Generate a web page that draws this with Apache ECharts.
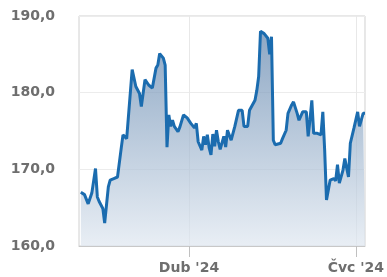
<!DOCTYPE html>
<html>
<head>
<meta charset="utf-8">
<script src="https://cdn.jsdelivr.net/npm/echarts@6/dist/echarts.min.js"></script>
<style>
  html, body { margin: 0; padding: 0; background: #fff; }
  #chart { width: 387px; height: 277px; }
</style>
</head>
<body>
<div id="chart"></div>
<script>
// datumy (obchodní dny)
const dates = [
  '2024-02-02','2024-02-04','2024-02-06','2024-02-08','2024-02-10','2024-02-11','2024-02-12','2024-02-14','2024-02-15','2024-02-17',
  '2024-02-18','2024-02-20','2024-02-21','2024-02-22','2024-02-24','2024-02-25','2024-02-27','2024-02-28','2024-03-01','2024-03-03',
  '2024-03-05','2024-03-06','2024-03-08','2024-03-10','2024-03-12','2024-03-14','2024-03-15','2024-03-16','2024-03-18','2024-03-19',
  '2024-03-20','2024-03-21','2024-03-22','2024-03-23','2024-03-24','2024-03-26','2024-03-27','2024-03-29','2024-03-31','2024-04-02',
  '2024-04-04','2024-04-05','2024-04-06','2024-04-08','2024-04-09','2024-04-10','2024-04-11','2024-04-12','2024-04-13','2024-04-14',
  '2024-04-15','2024-04-16','2024-04-17','2024-04-18','2024-04-20','2024-04-21','2024-04-22','2024-04-24','2024-04-26','2024-04-28',
  '2024-04-30','2024-05-01','2024-05-03','2024-05-04','2024-05-07','2024-05-08','2024-05-09','2024-05-10','2024-05-12','2024-05-14',
  '2024-05-15','2024-05-16','2024-05-17','2024-05-18','2024-05-21','2024-05-22','2024-05-24','2024-05-25','2024-05-27','2024-05-28',
  '2024-05-30','2024-05-31','2024-06-02','2024-06-04','2024-06-05','2024-06-06','2024-06-07','2024-06-08','2024-06-10','2024-06-12',
  '2024-06-13','2024-06-14','2024-06-15','2024-06-17','2024-06-19','2024-06-20','2024-06-21','2024-06-22','2024-06-24','2024-06-25',
  '2024-06-27','2024-06-28','2024-06-30','2024-07-02','2024-07-03','2024-07-05','2024-07-06'
]
// ceny
const prices = [
  167.0, 166.7, 165.5, 166.9, 170.1, 166.4, 165.8, 164.9, 163.0, 167.7,
  168.6, 168.8, 168.6, 169.0, 172.7, 174.5, 174.0, 174.0, 183.0, 180.8,
  179.9, 178.2, 181.7, 181.0, 180.6, 183.2, 183.6, 185.1, 184.5, 183.6,
  172.9, 177.1, 175.6, 176.4, 175.6, 174.9, 175.5, 177.1, 176.7, 176.0,
  175.4, 176.0, 173.6, 172.5, 174.3, 173.2, 174.5, 172.8, 171.9, 174.6,
  173.0, 175.1, 173.6, 172.6, 174.3, 172.9, 175.1, 173.8, 175.6, 177.7,
  177.7, 175.6, 175.6, 177.7, 179.0, 180.3, 182.1, 188.0, 187.7, 187.1,
  185.0, 187.3, 173.8, 173.2, 173.4, 174.0, 175.1, 177.3, 178.4, 178.8,
  177.3, 176.4, 177.5, 177.5, 174.3, 176.5, 179.0, 174.7, 174.7, 174.5,
  177.5, 172.5, 166.0, 168.6, 168.8, 168.5, 170.6, 168.2, 169.9, 171.4,
  169.0, 173.4, 175.4, 177.5, 175.6, 177.3, 177.3
]
const xTicks = ['2024-04-01', '2024-07-01']
const xTickLabels = ["Dub '24", "Čvc '24"]
const yTicks = [160, 170, 180, 190]
const firstDay = '2024-02-01'
const lastDay = '2024-07-06'

// kategorie = všechny kalendářní dny
const DAY = 86400000
const days = []
for (let t = Date.parse(firstDay + 'T00:00:00Z'); t <= Date.parse(lastDay + 'T00:00:00Z'); t += DAY) {
  days.push(new Date(t).toISOString().slice(0, 10))
}
const isTick = (i, v) => xTicks.indexOf(v) >= 0

const myChart = echarts.init(document.getElementById('chart'))
const labelStyle = { color: '#6e6e6e', fontSize: 14, fontWeight: 'bold', fontFamily: 'DejaVu Sans' }

const options = {
  animation: false,
  grid: {
    left: 79, right: 20, top: 16, bottom: 31,
    show: true, borderColor: '#d0d0d0', borderWidth: 1, backgroundColor: '#fff'
  },
  xAxis: {
    type: 'category',
    data: days,
    boundaryGap: false,
    axisLine: { show: true, lineStyle: { color: '#c8c8c8' } },
    axisTick: { show: true, length: 11, interval: isTick, lineStyle: { color: '#c0c0c0' } },
    axisLabel: {
      ...labelStyle,
      margin: 15,
      interval: isTick,
      formatter: v => xTickLabels[xTicks.indexOf(v)] || ''
    },
    splitLine: { show: true, interval: isTick, lineStyle: { color: '#e8e8e8' } }
  },
  yAxis: {
    type: 'value',
    min: yTicks[0],
    max: yTicks[yTicks.length - 1],
    interval: 10,
    axisLine: { show: false },
    axisTick: { show: false },
    axisLabel: { ...labelStyle, margin: 24, formatter: v => v.toFixed(1).replace('.', ',') },
    splitLine: { show: true, lineStyle: { color: '#ececec' } }
  },
  series: [{
    type: 'line',
    data: dates.map((d, i) => [d, prices[i]]),
    showSymbol: false,
    lineStyle: { color: '#1b6caf', width: 3 },
    areaStyle: {
      color: new echarts.graphic.LinearGradient(0, 0, 0, 1, [
        { offset: 0, color: '#5d82ab' },
        { offset: 1, color: '#dfe7f0' }
      ])
    },
    z: 3
  }]
}
myChart.setOption(options)
</script>
</body>
</html>
